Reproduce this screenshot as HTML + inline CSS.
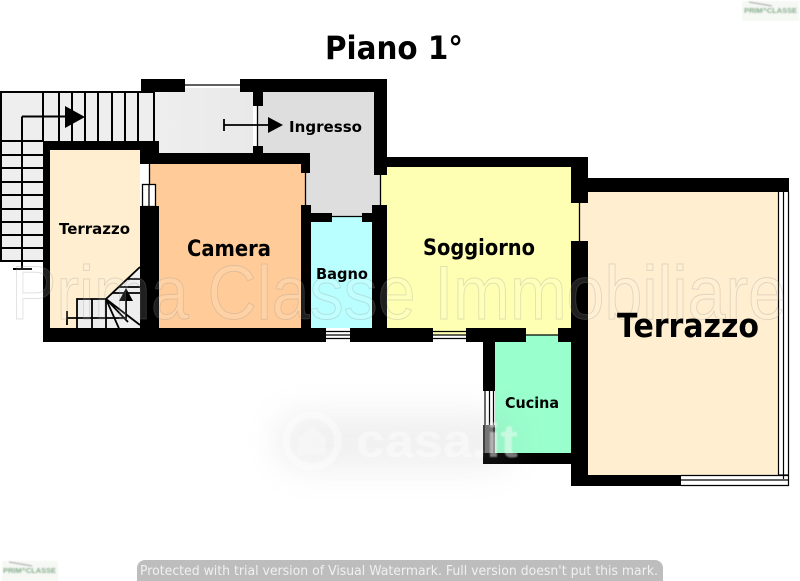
<!DOCTYPE html>
<html><head><meta charset="utf-8"><style>
html,body{margin:0;padding:0;background:#fff;width:800px;height:581px;overflow:hidden}
svg{display:block}
.l{font-family:"DejaVu Sans",sans-serif;font-weight:bold;fill:#000}
</style></head><body>
<svg width="800" height="581" viewBox="0 0 800 581" xmlns="http://www.w3.org/2000/svg">
<defs>
<filter id="b" x="-40%" y="-100%" width="180%" height="300%"><feGaussianBlur stdDeviation="16"/></filter>
<filter id="s"><feGaussianBlur stdDeviation="0.7"/></filter>
<linearGradient id="h" x1="0" y1="0" x2="1" y2="0"><stop offset="0" stop-color="#eeeeee"/><stop offset="1" stop-color="#e9e9e9"/></linearGradient>
</defs>
<rect width="800" height="581" fill="#fff"/>
<text class="l" x="325" y="59" font-size="32" textLength="138" lengthAdjust="spacingAndGlyphs">Piano 1°</text>

<!-- room fills -->
<rect x="0" y="92" width="155" height="49" fill="#eeeeee"/>
<rect x="0" y="141" width="43" height="120" fill="#eeeeee"/>
<rect x="155" y="88" width="98" height="65" fill="url(#h)"/>
<rect x="50" y="150" width="90" height="178" fill="#ffeecf"/>
<rect x="149" y="164" width="157" height="164" fill="#ffcc99"/>
<rect x="257" y="92" width="117" height="61" fill="#dedede"/>
<rect x="305" y="153" width="75" height="63" fill="#dedede"/>
<rect x="311" y="216" width="61" height="112" fill="#b9ffff"/>
<rect x="380" y="167" width="200" height="168" fill="#ffffb3"/>
<rect x="495" y="335" width="76" height="118" fill="#99ffcc"/>
<rect x="580" y="192" width="198" height="283" fill="#ffeecf"/>

<!-- stairs top -->
<g stroke="#000" stroke-width="2" fill="none">
<path d="M0 92H155M1 92V261M0 261H43M22 116.500V269M22 116.500H66M43 92V141"/>
<path d="M59 92V141M72 92V141M85 92V141M98 92V141M112 92V141M125 92V141M138 92V141M154 92V141"/>
<path d="M0 141H43M0 155H43M0 168H43M0 182H43M0 195H43M0 209H43M0 222H43M0 235H43M0 248H43"/>
<path d="M13 269H32"/>
</g>
<path d="M65 106L85 117L65 128Z" fill="#000"/>

<!-- lower stairs -->
<path d="M77 299H106L140 267V333H77Z" fill="#eeeeee"/>
<g stroke="#000" stroke-width="1.800" fill="none">
<path d="M77 333V299H106M92 299V333M106 299V333M106 299L140 267"/>
<path d="M127 279H140M119 287H140M112 293H140"/>
<path d="M106 299L140 325M106 299L121 333M106 299L128 322"/>
<path d="M126 300V318H67M67 311V325"/>
</g>
<path d="M126 288L133 301H119Z" fill="#000"/>

<!-- walls -->
<g fill="#000">
<rect x="141" y="79" width="44" height="13"/>
<rect x="240" y="79" width="147" height="13"/>
<rect x="253" y="92" width="10" height="14"/>
<rect x="253" y="146" width="10" height="7"/>
<rect x="374" y="92" width="13" height="83"/>
<rect x="43" y="141" width="116" height="9"/>
<rect x="43" y="141" width="7" height="201"/>
<rect x="140" y="141" width="19" height="23"/>
<rect x="140" y="206" width="19" height="136"/>
<rect x="150" y="153" width="160" height="11"/>
<rect x="301" y="153" width="9" height="20"/>
<rect x="301" y="205" width="10" height="137"/>
<rect x="311" y="213" width="21" height="9"/>
<rect x="362" y="213" width="12" height="9"/>
<rect x="372" y="205" width="15" height="137"/>
<rect x="387" y="157" width="201" height="10"/>
<rect x="571" y="157" width="17" height="46"/>
<rect x="571" y="241" width="17" height="245"/>
<rect x="588" y="178" width="201" height="14"/>
<rect x="43" y="328" width="283" height="14"/>
<rect x="350" y="328" width="83" height="14"/>
<rect x="466" y="328" width="60" height="14"/>
<rect x="558" y="328" width="13" height="14"/>
<rect x="483" y="342" width="12" height="49"/>
<rect x="483" y="453" width="88" height="11"/>
<rect x="571" y="475" width="110" height="11"/>
</g>
<rect x="483" y="425" width="12" height="28" fill="#333"/>
<rect x="485" y="425" width="8" height="28" fill="#707070"/>

<!-- thin lines / doors -->
<g stroke="#000" stroke-width="1.300" fill="none">
<path d="M185 85H240"/>
<path d="M257.500 106V146"/>
<path d="M305.500 173V205"/>
<path d="M380.500 175V205"/>
<path d="M332 216.500H362"/>
<path d="M149.500 164V184"/>
<path d="M579.500 203V241"/>
<path d="M526 335H558"/>
</g>
<path d="M224 125H268M224 119V131" stroke="#000" stroke-width="1.800" fill="none"/>
<path d="M268 117L283 125L268 133Z" fill="#000"/>

<!-- windows -->
<rect x="142.500" y="184.500" width="13" height="22" fill="#fff" stroke="#000" stroke-width="1.300"/>
<path d="M149 184V206" stroke="#000" stroke-width="1.300"/>
<g stroke="#000" stroke-width="1.200" fill="none">
<path d="M326 331.500H350M326 335H350M326 338.500H350"/>
<path d="M433 331.500H466M433 335H466M433 338.500H466"/>
<path d="M485 391V425M489.500 391V425M493.500 391V425"/>
</g>
<rect x="778" y="192" width="11" height="294" fill="#fff"/>
<rect x="681" y="475" width="108" height="11" fill="#fff"/>
<g stroke="#000" stroke-width="1.200" fill="none">
<path d="M778.500 192V475H789M783.500 192V479M788.500 192V486"/>
<path d="M681 475.500H789M681 480H789M681 485.500H789"/>
</g>

<!-- watermark outlined -->
<text x="11" y="319" font-family="Liberation Sans,sans-serif" font-size="76" fill="#ffffff" fill-opacity="0.12" stroke="#8a8a8a" stroke-opacity="0.26" stroke-width="1" textLength="775" lengthAdjust="spacingAndGlyphs">Prima Classe Immobiliare</text>

<!-- labels -->
<text class="l" x="59" y="234" font-size="15.500" textLength="71" lengthAdjust="spacingAndGlyphs">Terrazzo</text>
<text class="l" x="187" y="256" font-size="22" textLength="84" lengthAdjust="spacingAndGlyphs">Camera</text>
<text class="l" x="289" y="132" font-size="15.500" textLength="73" lengthAdjust="spacingAndGlyphs">Ingresso</text>
<text class="l" x="316" y="279" font-size="15.500" textLength="52" lengthAdjust="spacingAndGlyphs">Bagno</text>
<text class="l" x="423" y="255" font-size="22" textLength="112" lengthAdjust="spacingAndGlyphs">Soggiorno</text>
<text class="l" x="505" y="408" font-size="15.500" textLength="54" lengthAdjust="spacingAndGlyphs">Cucina</text>
<text class="l" x="617" y="337" font-size="33" textLength="142" lengthAdjust="spacingAndGlyphs">Terrazzo</text>

<!-- casa.it watermark -->
<rect x="275" y="412" width="240" height="58" rx="28" fill="#9a9a9a" opacity="0.14" filter="url(#b)"/>
<g opacity="0.45" filter="url(#s)">
<circle cx="312" cy="441" r="26" fill="none" stroke="#fff" stroke-width="7"/>
<path d="M298 455V438L312 426L326 438V455Z" fill="#fff" opacity="0.6"/>
<text x="356" y="457" font-family="Liberation Sans,sans-serif" font-weight="bold" font-size="47" fill="#fff" textLength="162" lengthAdjust="spacingAndGlyphs">casa.it</text>
</g>

<!-- logos -->
<g filter="url(#s)">
<rect x="742" y="1" width="57" height="20" fill="#f6f8f4"/>
<text x="744" y="13" font-family="Liberation Sans,sans-serif" font-weight="bold" font-size="7.500" fill="#6fa67c" textLength="53" lengthAdjust="spacingAndGlyphs">PRIM^CLASSE</text>
<path d="M749 2L772 6" stroke="#666" stroke-width="0.800"/>
<rect x="2" y="561" width="56" height="20" fill="#f6f8f4"/>
<text x="3" y="573" font-family="Liberation Sans,sans-serif" font-weight="bold" font-size="7.500" fill="#6fa67c" textLength="53" lengthAdjust="spacingAndGlyphs">PRIM^CLASSE</text>
<path d="M9 562L32 566" stroke="#666" stroke-width="0.800"/>
</g>

<!-- bottom bar -->
<rect x="137" y="560" width="526" height="30" rx="8" fill="#bdbdbd"/>
<text x="140" y="575" font-family="DejaVu Sans,sans-serif" font-size="13" fill="#f0f0f0" textLength="518" lengthAdjust="spacingAndGlyphs">Protected with trial version of Visual Watermark. Full version doesn't put this mark.</text>
</svg>
</body></html>
